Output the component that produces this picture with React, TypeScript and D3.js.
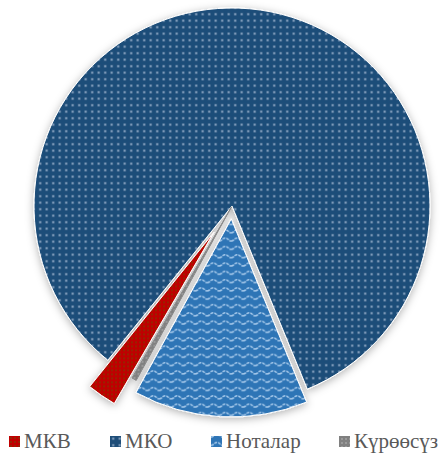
import React from "react";
import * as d3 from "d3";

// Slice categories and their shares, in percent
const categories = ["МКВ", "МКО", "Ноталар", "Күрөөсүз"];
const shares = [2.4, 83.0, 14.2, 0.4];

const W = 442;
const H = 454;
const cx = 232;
const cy = 206;
const radius = 198;
const startDeg = 210.2;
// How far each slice is pulled out from the centre
const explode = [32, 0, 13, 1];
const fills = ["url(#patMKV)", "url(#patMKO)", "url(#patNot)", "url(#patKur)"];
const strokes = ["#ffffff", "#ffffff", "#ffffff", "#8a8a8a"];
const legendX = [9, 110, 211, 339];

export default function App() {
  const start = (startDeg * Math.PI) / 180;
  const pie = d3
    .pie<number>()
    .sort(null)
    .startAngle(start)
    .endAngle(start + 2 * Math.PI);
  const arcs = pie(shares);
  const arcGen = d3.arc<d3.PieArcDatum<number>>().innerRadius(0).outerRadius(radius);

  return (
    <div style={{ position: "absolute", left: 0, top: 0 }}>
      <svg width={W} height={H} style={{ display: "block", background: "#fff" }}>
        <defs>
          <pattern id="patMKO" width={6.5} height={6.5} patternUnits="userSpaceOnUse">
            <rect width={6.5} height={6.5} fill="#1F4E79" />
            <rect x={2.2} y={2.2} width={2} height={2} fill="#93abc8" />
          </pattern>
          <pattern id="patNot" width={12} height={8.3} patternUnits="userSpaceOnUse">
            <rect width={12} height={8.3} fill="#2E75B6" />
            <path
              d="M0,5.5 C3,5.5 3,2.5 6,2.5 C9,2.5 9,5.5 12,5.5"
              fill="none"
              stroke="#a9cbec"
              strokeWidth={1.4}
              strokeDasharray="3 1"
            />
          </pattern>
          <pattern id="patMKV" width={4} height={4} patternUnits="userSpaceOnUse">
            <rect width={4} height={4} fill="#C00000" />
            <rect x={1.2} y={1.2} width={1.6} height={1.6} fill="#7d3a08" />
          </pattern>
          <pattern id="patKur" width={4} height={4} patternUnits="userSpaceOnUse">
            <rect width={4} height={4} fill="#808080" />
            <rect x={2} y={2} width={2} height={2} fill="#9a9a9a" />
          </pattern>
          <filter id="softShadow" x="-20%" y="-20%" width="140%" height="140%">
            <feDropShadow dx={0} dy={2} stdDeviation={4} floodColor="#000" floodOpacity={0.3} />
          </filter>
        </defs>

        <g filter="url(#softShadow)">
          {arcs.map((a, i) => {
            const mid = (a.startAngle + a.endAngle) / 2;
            const ox = Math.sin(mid) * explode[i];
            const oy = -Math.cos(mid) * explode[i];
            return (
              <path
                key={categories[i]}
                d={arcGen(a) || ""}
                transform={`translate(${cx + ox},${cy + oy})`}
                fill={fills[i]}
                stroke={strokes[i]}
                strokeWidth={1}
                strokeLinejoin="round"
              />
            );
          })}
        </g>

        <g fontFamily="'Liberation Serif', 'Times New Roman', serif" fontSize={21} fill="#595959">
          {categories.map((c, i) => (
            <g key={c} transform={`translate(${legendX[i]},0)`}>
              <rect x={0} y={436} width={11} height={11} fill={fills[i]} />
              <text x={15} y={448}>
                {c}
              </text>
            </g>
          ))}
        </g>
      </svg>
    </div>
  );
}
